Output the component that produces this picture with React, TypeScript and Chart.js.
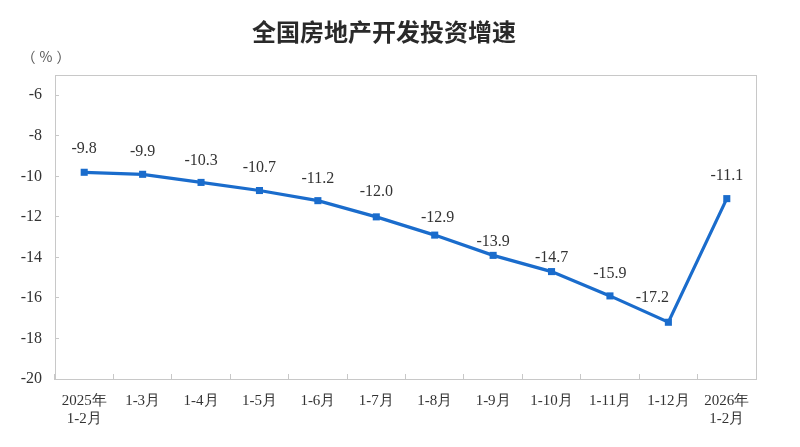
import React, { useEffect, useRef } from "react";
import { Chart, registerables } from "chart.js";

Chart.register(...registerables);

const TITLE = "全国房地产开发投资增速";
const UNIT = "（%）";
const categories: (string | string[])[] = [
  ["2025年", "1-2月"],
  "1-3月",
  "1-4月",
  "1-5月",
  "1-6月",
  "1-7月",
  "1-8月",
  "1-9月",
  "1-10月",
  "1-11月",
  "1-12月",
  ["2026年", "1-2月"],
];
const growth = [-9.8, -9.9, -10.3, -10.7, -11.2, -12.0, -12.9, -13.9, -14.7, -15.9, -17.2, -11.1];
const yMin = -20;
const yMax = -5;
const yStep = 2;

// label nudges (style only)
const labelDy = [23, 23, 22, 23, 22, 25, 17, 14, 14, 22, 24, 23];
const labelDx = [0, 0, 0, 0, 0, 0, 3, 0, 0, 0, -16, 0];

const BLUE = "#1a6ccc";
const BORDER = "#c8c8c8";
const SERIF = "'Liberation Serif', 'Times New Roman', serif";
const CJK = "'Noto Sans CJK SC', 'Noto Sans', sans-serif";

const decorPlugin = {
  id: "decor",
  beforeDatasetsDraw(chart: any) {
    const { ctx, chartArea } = chart;
    ctx.save();
    ctx.strokeStyle = BORDER;
    ctx.lineWidth = 1;
    ctx.strokeRect(
      Math.round(chartArea.left) + 0.5,
      Math.round(chartArea.top) + 0.5,
      Math.round(chartArea.right - chartArea.left),
      Math.round(chartArea.bottom - chartArea.top)
    );
    ctx.restore();
  },
  afterDraw(chart: any) {
    const { ctx } = chart;
    ctx.save();
    ctx.fillStyle = "#2a2a2a";
    ctx.font = `bold 24px ${CJK}`;
    ctx.textAlign = "center";
    ctx.textBaseline = "middle";
    ctx.fillText(TITLE, 384, 32);
    ctx.font = `14px ${CJK}`;
    ctx.fillStyle = "#555";
    try {
      (ctx as any).letterSpacing = "4px";
    } catch (e) {}
    ctx.fillText(UNIT, 48, 57);
    try {
      (ctx as any).letterSpacing = "0px";
    } catch (e) {}

    const meta = chart.getDatasetMeta(0);
    ctx.font = `16px ${SERIF}`;
    ctx.fillStyle = "#333";
    meta.data.forEach((pt: any, i: number) => {
      ctx.fillText(growth[i].toFixed(1), pt.x + labelDx[i], pt.y - labelDy[i]);
    });
    ctx.restore();
  },
};

export default function App() {
  const ref = useRef<HTMLCanvasElement | null>(null);
  useEffect(() => {
    document.body.style.margin = "0";
    const chart = new Chart(ref.current as HTMLCanvasElement, {
      type: "line",
      data: {
        labels: categories as any,
        datasets: [
          {
            data: growth,
            borderColor: BLUE,
            backgroundColor: BLUE,
            borderWidth: 3.2,
            pointStyle: "rect",
            pointRadius: 5,
            pointHoverRadius: 5,
            pointBorderWidth: 0,
            tension: 0,
          },
        ],
      },
      options: {
        animation: false,
        responsive: false,
        maintainAspectRatio: false,
        layout: { padding: { left: 0, right: 44, top: 75, bottom: 18 } },
        plugins: { legend: { display: false }, tooltip: { enabled: false }, title: { display: false } },
        scales: {
          x: {
            offset: true,
            afterFit(scale: any) {
              scale.height = 50;
            },
            grid: {
              offset: true,
              drawOnChartArea: false,
              drawTicks: true,
              tickLength: -5,
              color: BORDER,
            },
            border: { color: BORDER },
            ticks: {
              autoSkip: false,
              maxRotation: 0,
              padding: 18,
              color: "#333",
              font: { family: SERIF, size: 15 },
            },
          },
          y: {
            min: yMin,
            max: yMax,
            bounds: "data",
            afterFit(scale: any) {
              scale.width = 55;
            },
            afterBuildTicks(scale: any) {
              scale.ticks = scale.ticks.filter((t: any) => (t.value - yMin) % yStep === 0);
            },
            grid: {
              drawOnChartArea: false,
              drawTicks: true,
              tickLength: -4,
              color: BORDER,
            },
            border: { color: BORDER },
            ticks: {
              stepSize: yStep,
              includeBounds: false,
              padding: 17,
              color: "#333",
              font: { family: SERIF, size: 16 },
            },
          },
        },
      } as any,
      plugins: [decorPlugin],
    });
    return () => chart.destroy();
  }, []);
  return (
    <div style={{ width: 800, height: 447 }}>
      <canvas ref={ref} width={800} height={447} style={{ display: "block" }} />
    </div>
  );
}
